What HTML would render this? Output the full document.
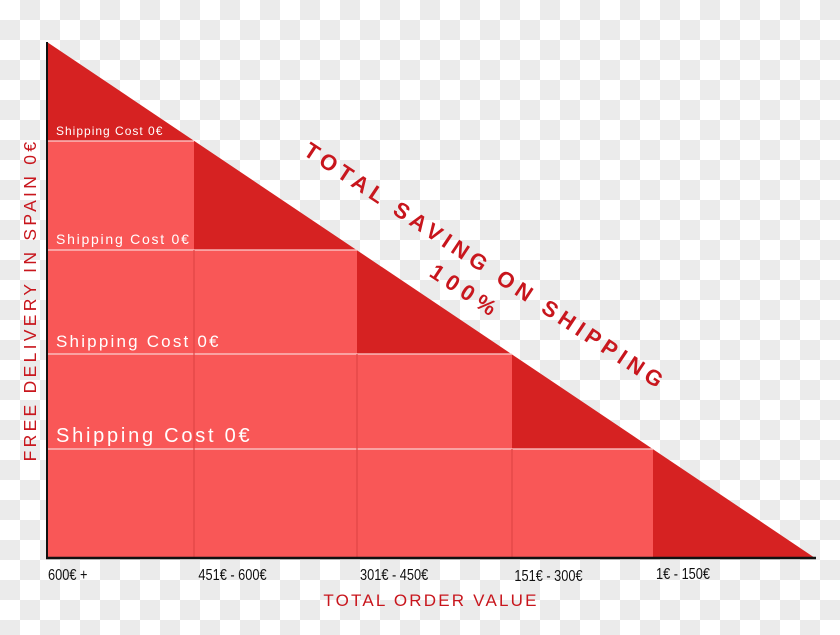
<!DOCTYPE html>
<html><head><meta charset="utf-8"><style>
html,body{margin:0;padding:0;width:840px;height:635px;overflow:hidden;}
svg{display:block}
text{font-family:"Liberation Sans",sans-serif;}
</style></head><body>
<svg width="840" height="635" viewBox="0 0 840 635" xmlns="http://www.w3.org/2000/svg">
<defs>
<pattern id="chk" width="40" height="40" patternUnits="userSpaceOnUse">
<rect width="40" height="40" fill="#ffffff"/>
<rect x="20" y="0" width="20" height="20" fill="#ebebeb"/>
<rect x="0" y="20" width="20" height="20" fill="#ebebeb"/>
</pattern>
</defs>
<rect width="840" height="635" fill="url(#chk)"/>
<polygon points="47,42 815,558 47,558" fill="#d62222"/>
<polygon points="47,141 194,141 194,250 357,250 357,354 512,354 512,449 653,449 653,558 47,558" fill="#f95757"/>
<g stroke="#fbd0d0" stroke-width="1.2">
<line x1="47" y1="141" x2="194" y2="141"/>
<line x1="47" y1="250" x2="357" y2="250"/>
<line x1="47" y1="354" x2="512" y2="354"/>
<line x1="47" y1="449" x2="653" y2="449"/>
</g>
<g stroke="#e04545" stroke-width="1.2">
<line x1="194" y1="250" x2="194" y2="558"/>
<line x1="357" y1="354" x2="357" y2="558"/>
<line x1="512" y1="449" x2="512" y2="558"/>
</g>
<line x1="47" y1="42" x2="47" y2="559" stroke="#111" stroke-width="2"/>
<line x1="46" y1="558" x2="816" y2="558" stroke="#111" stroke-width="2.5"/>
<g fill="#fff">
<text x="56" y="135" font-size="12" letter-spacing="1">Shipping Cost 0€</text>
<text x="56" y="244" font-size="14" letter-spacing="1.75">Shipping Cost 0€</text>
<text x="56" y="347" font-size="17" letter-spacing="2.2">Shipping Cost 0€</text>
<text x="56" y="442" font-size="20" letter-spacing="2.75">Shipping Cost 0€</text>
</g>
<g fill="#111" font-size="16" transform="scale(0.8,1)">
<text x="60" y="580">600€ +</text>
<text x="248" y="580">451€ - 600€</text>
<text x="450" y="580">301€ - 450€</text>
<text x="643" y="581">151€ - 300€</text>
<text x="820" y="579">1€ - 150€</text>
</g>
<text x="431" y="606" font-size="17" fill="#c8161d" letter-spacing="2.2" text-anchor="middle">TOTAL ORDER VALUE</text>
<text transform="translate(36,300) rotate(-90)" font-size="17.5" fill="#c8161d" letter-spacing="3.3" text-anchor="middle">FREE DELIVERY IN SPAIN 0€</text>
<g fill="#c8161d" font-weight="bold" text-anchor="middle">
<text transform="translate(486,266) rotate(33.5)" y="8" font-size="22" letter-spacing="5">TOTAL SAVING ON SHIPPING</text>
<text transform="translate(466,291) rotate(33.5)" y="8" font-size="22" letter-spacing="6">100%</text>
</g>
</svg>
</body></html>
